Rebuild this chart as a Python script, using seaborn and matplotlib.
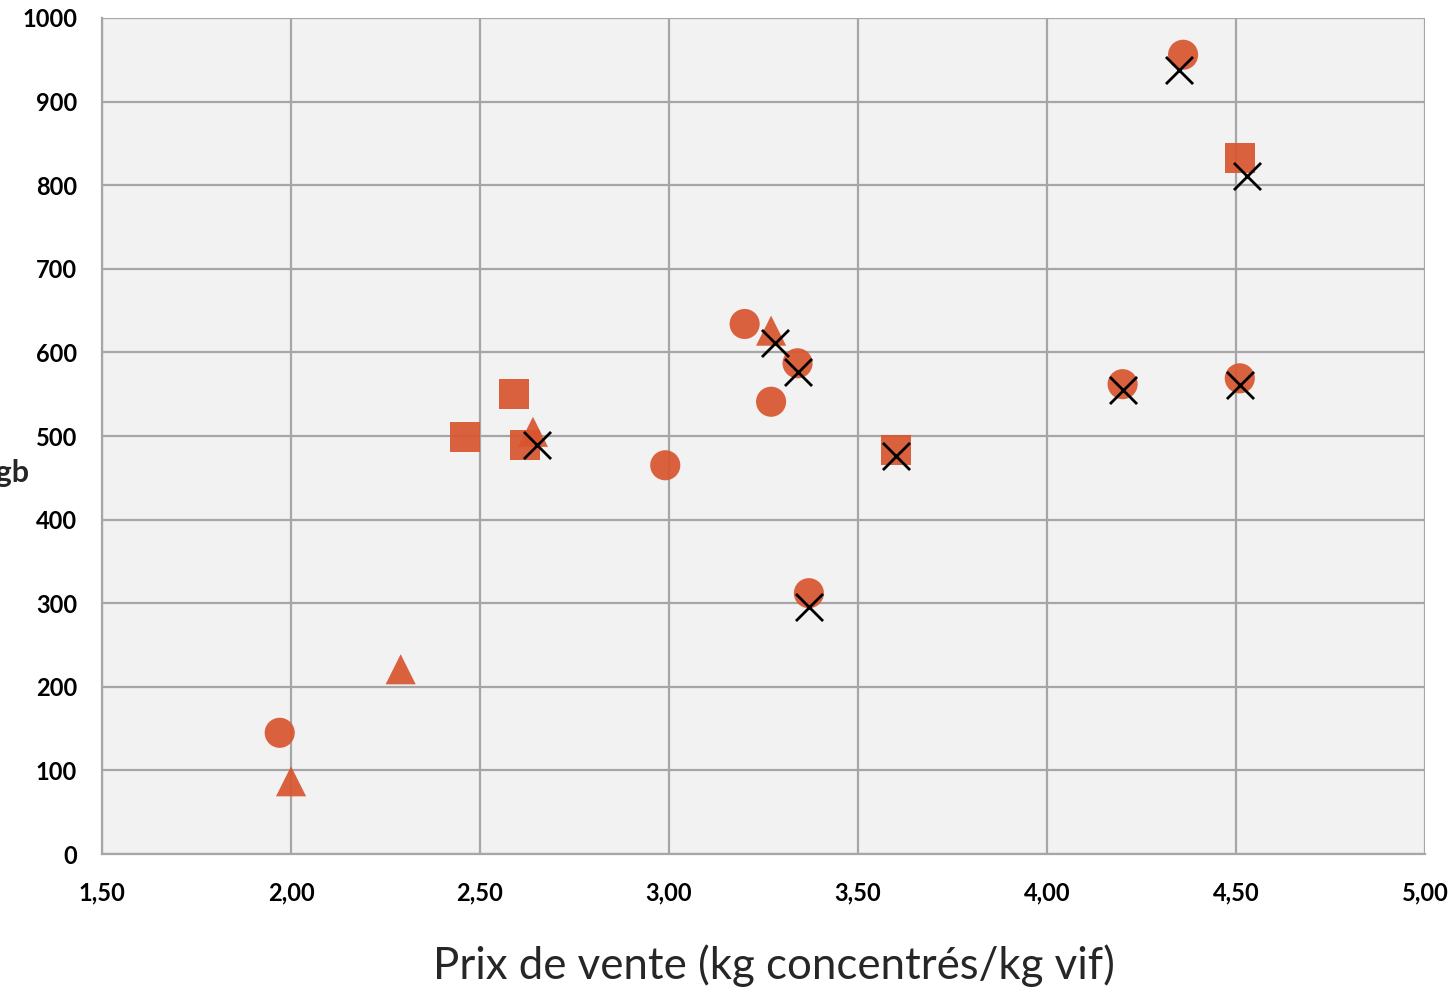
import matplotlib
matplotlib.use("Agg")
import matplotlib.pyplot as plt
import seaborn as sns
import pandas as pd

# --- DATA ---
circle_x = [1.97, 2.99, 3.20, 3.27, 3.34, 3.37, 4.20, 4.36, 4.51]
circle_y = [145, 465, 634, 541, 587, 312, 562, 956, 569]

square_x = [2.46, 2.59, 2.62, 3.60, 4.51]
square_y = [499, 550, 489, 483, 832]

triangle_x = [2.00, 2.29, 2.64, 3.27]
triangle_y = [87, 221, 505, 626]

cross_x = [2.65, 3.28, 3.34, 3.37, 3.60, 4.20, 4.35, 4.53, 4.51]
cross_y = [489, 611, 577, 295, 476, 555, 938, 811, 561]

x_ticks = [1.5, 2.0, 2.5, 3.0, 3.5, 4.0, 4.5, 5.0]
x_tick_labels = ['1,50', '2,00', '2,50', '3,00', '3,50', '4,00', '4,50', '5,00']
y_ticks = [0, 100, 200, 300, 400, 500, 600, 700, 800, 900, 1000]

X_LABEL = 'Prix de vente (kg concentrés/kg vif)'
Y_LABEL = 'Marge/ugb'

ORANGE = '#D8552F'
GRID = '#A6A6A6'


def build_frame():
    parts = [
        pd.DataFrame({'x': circle_x, 'y': circle_y, 'shape': 'circle'}),
        pd.DataFrame({'x': square_x, 'y': square_y, 'shape': 'square'}),
        pd.DataFrame({'x': triangle_x, 'y': triangle_y, 'shape': 'triangle'}),
    ]
    return pd.concat(parts, ignore_index=True)


def generate_chart(df):
    sns.set_theme(style="whitegrid")
    plt.rcParams['font.family'] = ['Lato', 'DejaVu Sans']

    fig = plt.figure(figsize=(14.56, 9.88), dpi=100)
    ax = fig.add_axes([0.0701, 0.1356, 0.9086, 0.8462])
    ax.set_facecolor('#F2F2F2')

    sns.scatterplot(
        data=df, x='x', y='y', style='shape',
        markers={'circle': 'o', 'square': 's', 'triangle': '^'},
        color=ORANGE, s=470, alpha=0.92, linewidth=0, legend=False,
        ax=ax, zorder=3
    )
    crosses = pd.DataFrame({'x': cross_x, 'y': cross_y})
    sns.scatterplot(
        data=crosses, x='x', y='y', marker='x', color='black',
        s=380, linewidth=2.0, legend=False, ax=ax, zorder=4
    )

    ax.set_xlim(x_ticks[0], x_ticks[-1])
    ax.set_ylim(y_ticks[0], y_ticks[-1])
    ax.set_xticks(x_ticks)
    ax.set_xticklabels(x_tick_labels)
    ax.set_yticks(y_ticks)
    ax.set_yticklabels([str(v) for v in y_ticks])
    ax.tick_params(axis='both', length=0, labelsize=17, colors='black')
    ax.tick_params(axis='x', pad=20)
    ax.tick_params(axis='y', pad=18)
    for lbl in ax.get_xticklabels() + ax.get_yticklabels():
        lbl.set_fontweight('bold')

    ax.grid(True, color=GRID, linewidth=1.6)
    for side, sp in ax.spines.items():
        sp.set_visible(side in ('left', 'bottom'))
        sp.set_color(GRID)
        sp.set_linewidth(1.6)

    ax.set_xlabel(X_LABEL, fontsize=31.5)
    ax.xaxis.set_label_coords(0.508, -0.133)
    ax.xaxis.label.set_va('center')
    ax.set_ylabel('')
    # axis title sits mostly outside the figure, as in the source image
    fig.text(0.0200, 0.521, Y_LABEL, ha='right', va='center',
             fontsize=22, fontweight='bold')

    fig.savefig('out.png', dpi=100)
    plt.close(fig)


if __name__ == "__main__":
    generate_chart(build_frame())
